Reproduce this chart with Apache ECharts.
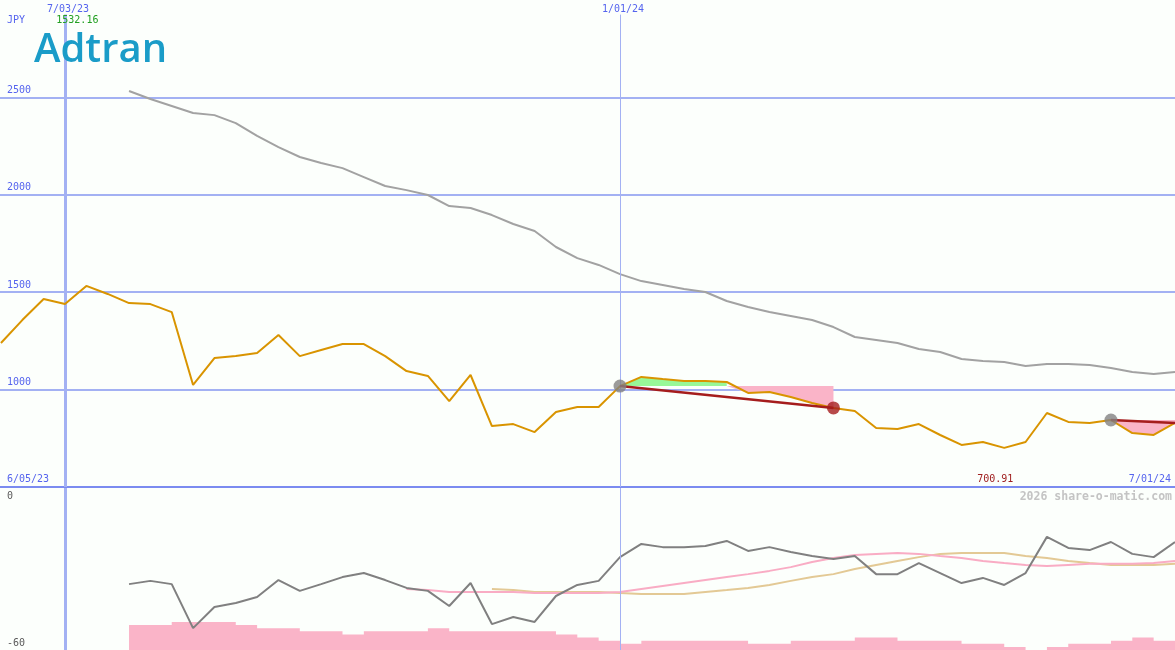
<!DOCTYPE html>
<html><head><meta charset="utf-8">
<script src="https://cdn.jsdelivr.net/npm/echarts@6/dist/echarts.min.js"></script>
<style>html,body{margin:0;padding:0;background:#fcfffc;overflow:hidden}#c{width:1175px;height:650px}</style>
</head><body><div id="c"></div>
<script>
// ---------- data ----------
const dates = ['2023-06-12','2023-06-19','2023-06-26','2023-07-03','2023-07-10','2023-07-17','2023-07-24','2023-07-31',
'2023-08-07','2023-08-14','2023-08-21','2023-08-28','2023-09-04','2023-09-11','2023-09-18','2023-09-25',
'2023-10-02','2023-10-09','2023-10-16','2023-10-23','2023-10-30','2023-11-06','2023-11-13','2023-11-20','2023-11-27',
'2023-12-04','2023-12-11','2023-12-18','2023-12-25','2024-01-01','2024-01-08','2024-01-15','2024-01-22','2024-01-29',
'2024-02-05','2024-02-12','2024-02-19','2024-02-26','2024-03-04','2024-03-11','2024-03-18','2024-03-25',
'2024-04-01','2024-04-08','2024-04-15','2024-04-22','2024-04-29','2024-05-06','2024-05-13','2024-05-20','2024-05-27',
'2024-06-03','2024-06-10','2024-06-17','2024-06-24','2024-07-01'];
const price = [1239,1357,1465,1439,1532.16,1491,1444,1439,1398,1024,1162,1172,1188,1280,1172,1203,1234,1234,1172,1095,
1070,941,1075,813,823,782,885,911,911,1018,1065,1054,1044,1044,1039,983,988,962,931,906,890,803,798,823,767,716,731,
700.91,731,880,834,829,844,777,767,829];
const movingAvg = [null,null,null,null,null,null,2533,2492,2456,2420,2409,2368,2302,2245,2194,2163,2137,2091,2045,2024,
1999,1942,1932,1896,1850,1814,1732,1675,1640,1593,1557,1537,1516,1501,1455,1424,1398,1378,1357,1321,1270,1255,1239,
1208,1193,1157,1147,1142,1121,1131,1131,1126,1111,1090,1080,1090];
const oscMain = [null,null,null,null,null,null,-35.6,-34.4,-35.6,-51.9,-44.1,-42.6,-40.4,-34.1,-38.1,-35.6,-33.0,-31.5,
-34.1,-37.0,-38.1,-43.7,-35.2,-50.4,-47.8,-49.6,-40.0,-35.9,-34.4,-25.6,-20.7,-21.9,-21.9,-21.5,-19.6,-23.3,-21.9,-23.7,
-25.2,-26.3,-25.2,-31.9,-31.9,-27.8,-31.5,-35.2,-33.3,-35.9,-31.5,-18.1,-22.2,-23.0,-20.0,-24.4,-25.6,-20.0];
const oscFast = [null,null,null,null,null,null,null,null,null,null,null,null,null,null,null,null,null,null,null,
-37.4,-37.8,-38.5,-38.5,-38.5,-38.5,-38.9,-38.9,-38.9,-38.9,-38.5,-37.4,-36.3,-35.2,-34.1,-33.0,-31.9,-30.7,-29.3,
-27.4,-25.9,-24.8,-24.4,-24.1,-24.4,-25.2,-25.9,-27.0,-27.8,-28.5,-28.9,-28.5,-28.1,-28.1,-28.1,-27.8,-27.0];
const oscSlow = [null,null,null,null,null,null,null,null,null,null,null,null,null,null,null,null,null,null,null,null,null,null,null,
-37.4,-37.8,-38.5,-38.5,-38.5,-38.5,-38.9,-39.3,-39.3,-39.3,-38.5,-37.8,-37.0,-35.9,-34.4,-33.0,-31.9,-30.0,-28.5,
-27.0,-25.6,-24.4,-24.1,-24.1,-24.1,-25.2,-25.9,-27.0,-27.8,-28.5,-28.5,-28.5,-28.1];
const volume = [null,null,null,null,null,null,8,8,9,9,9,8,7,7,6,6,5,6,6,6,7,6,6,6,6,6,5,4,3,2,3,3,3,3,3,2,2,3,3,3,
4,4,3,3,3,2,2,1,0,1,2,2,3,4,3,3];
const trades = [{entry:'2024-01-01', exit:'2024-03-11'}, {entry:'2024-06-10', exit:null}];
const priceTicks = [500, 3000, 500];      // min, max, step
const oscTicks = [-60, 0, 60];
const volumeMax = 52;
const currency = 'JPY';
const markDates = ['2023-07-03','2024-01-01'];
const markLabels = ['7/03/23','1/01/24'];
const startLabel = '6/05/23';
const endLabel = '7/01/24';
const logoText = 'Adtran';
const watermark = '2026 share-o-matic.com';

// ---------- helpers ----------
const DAY = 86400000;
function ts(s){const p=s.split('-').map(Number);return new Date(p[0],p[1]-1,p[2]).getTime();}
const T = dates.map(ts);
const pairs = arr => arr.map((v,i)=>[T[i], v]);
const xMin = T[0] - 0.315*DAY, xMax = T[T.length-1];

const MONO = 'DejaVu Sans Mono';
const BLUE = '#5564ee';
const GRIDC = '#a3b1f3';
const series = [];

// vertical date lines (carrier series)
function vLines(gridIdx, withLabel){
  return {
    type:'line', xAxisIndex:gridIdx, yAxisIndex:gridIdx, data:pairs(gridIdx===0?price:oscMain),
    lineStyle:{opacity:0}, symbol:'none', silent:true, z:1,
    markLine:{
      symbol:['none','none'], silent:true, animation:false,
      data: markDates.map((d,k)=>{
        const w = k===0 ? 3 : 1;
        const top = gridIdx===0 ? {coord:[ts(d), 2925]} : {coord:[ts(d), 0]};
        const bot = gridIdx===0 ? {coord:[ts(d), priceTicks[0]]} : {coord:[ts(d), oscTicks[0]]};
        top.lineStyle = {color:GRIDC, width:w, type:'solid'};
        top.label = withLabel ? {show:true, position:'start', formatter:markLabels[k], color:BLUE,
          fontFamily:MONO, fontSize:10, distance:0, offset:[3,0]} : {show:false};
        return [top, bot];
      })
    }
  };
}
series.push(vLines(0,true));
series.push(vLines(1,false));

// moving average
series.push({type:'line', xAxisIndex:0, yAxisIndex:0, data:pairs(movingAvg), symbol:'none',
  lineStyle:{color:'#a2a2a2', width:2}, z:3, silent:true});

// trade fills
trades.forEach((tr,k)=>{
  const s = dates.indexOf(tr.entry);
  const e = tr.exit ? dates.indexOf(tr.exit) : dates.length-1;
  const level = price[s];
  const gBase=[], gDiff=[], pBase=[], pDiff=[];
  for(let i=0;i<dates.length;i++){
    let g=null,gd=null,pb=null,pd=null;
    if(i>=s && i<=e){
      if(price[i]>=level){ g=level; gd=price[i]-level; }
      const below = price[i]<level || (i<e && price[i+1]<level);
      if(below){ pb=Math.min(price[i],level); pd=level-pb; }
    }
    gBase.push(g); gDiff.push(gd); pBase.push(pb); pDiff.push(pd);
  }
  const common = {type:'line', xAxisIndex:0, yAxisIndex:0, symbol:'none', silent:true, z:4, stackStrategy:'all',
    lineStyle:{opacity:0, width:0}};
  series.push(Object.assign({}, common, {stack:'g'+k, data:pairs(gBase)}));
  series.push(Object.assign({}, common, {stack:'g'+k, data:pairs(gDiff), areaStyle:{color:'#98f898', opacity:1}}));
  series.push(Object.assign({}, common, {stack:'p'+k, data:pairs(pBase)}));
  series.push(Object.assign({}, common, {stack:'p'+k, data:pairs(pDiff), areaStyle:{color:'#fab4c8', opacity:1}}));
});

// price
series.push({type:'line', xAxisIndex:0, yAxisIndex:0, data:pairs(price), symbol:'none',
  lineStyle:{color:'#d99400', width:2}, z:5, silent:true});

// trade lines and markers
const entryPts=[], exitPts=[];
trades.forEach(tr=>{
  const s = dates.indexOf(tr.entry);
  const e = tr.exit ? dates.indexOf(tr.exit) : dates.length-1;
  series.push({type:'line', xAxisIndex:0, yAxisIndex:0, data:[[T[s],price[s]],[T[e],price[e]]], symbol:'none',
    lineStyle:{color:'#a51d1d', width:2.5}, z:6, silent:true});
  entryPts.push([T[s],price[s]]);
  if(tr.exit) exitPts.push([T[e],price[e]]);
});
series.push({type:'scatter', xAxisIndex:0, yAxisIndex:0, data:exitPts, symbolSize:13,
  itemStyle:{color:'#a51d1d'}, z:7, silent:true});
series.push({type:'scatter', xAxisIndex:0, yAxisIndex:0, data:entryPts, symbolSize:13,
  itemStyle:{color:'#828282'}, z:7, silent:true});

// lower panel
series.push({type:'line', xAxisIndex:1, yAxisIndex:2, data:pairs(volume), step:'end', symbol:'none',
  lineStyle:{width:0, opacity:0}, areaStyle:{color:'#fab4c8', opacity:1}, z:2, silent:true});
series.push({type:'line', xAxisIndex:1, yAxisIndex:1, data:pairs(oscSlow), symbol:'none',
  lineStyle:{color:'#e3c995', width:2}, z:3, silent:true});
series.push({type:'line', xAxisIndex:1, yAxisIndex:1, data:pairs(oscFast), symbol:'none',
  lineStyle:{color:'#f9acc4', width:2}, z:3, silent:true});
series.push({type:'line', xAxisIndex:1, yAxisIndex:1, data:pairs(oscMain), symbol:'none',
  lineStyle:{color:'#808080', width:2}, z:4, silent:true});

const chart = echarts.init(document.getElementById('c'), null, {renderer:'canvas'});
chart.setOption({
  animation:false,
  backgroundColor:'#fcfffc',
  grid:[{left:0,right:0,top:0,height:487},{left:0,right:0,top:488,height:162}],
  xAxis:[
    {type:'time', gridIndex:0, min:xMin, max:xMax, axisLine:{show:true, onZero:false, lineStyle:{color:'#7b8bf0', width:2}},
     axisTick:{show:false}, axisLabel:{show:false}, splitLine:{show:false}},
    {type:'time', gridIndex:1, min:xMin, max:xMax, show:false}
  ],
  yAxis:[
    {type:'value', gridIndex:0, min:priceTicks[0], max:priceTicks[1], interval:priceTicks[2],
     axisLine:{show:false}, axisTick:{show:false},
     axisLabel:{inside:true, margin:7, color:BLUE, fontFamily:MONO, fontSize:10, verticalAlign:'bottom',
       padding:[0,0,2,0], showMinLabel:false, showMaxLabel:false, formatter:v=>String(v)},
     splitLine:{show:true, showMaxLine:false, lineStyle:{color:GRIDC, width:2}}},
    {type:'value', gridIndex:1, min:oscTicks[0], max:oscTicks[1], interval:oscTicks[2],
     axisLine:{show:false}, axisTick:{show:false}, splitLine:{show:false},
     axisLabel:{inside:true, margin:7, color:'#5a5a5a', fontFamily:MONO, fontSize:10,
       formatter:v=> v===oscTicks[1] ? '{t|'+v+'}' : '{b|'+v+'}',
       rich:{t:{padding:[16,0,0,0], fontFamily:MONO, fontSize:10, color:'#5a5a5a'},
             b:{padding:[0,0,14,0], fontFamily:MONO, fontSize:10, color:'#5a5a5a'}}}},
    {type:'value', gridIndex:1, min:0, max:volumeMax, show:false}
  ],
  series:series
});

// annotations
let hi=0, lo=0;
price.forEach((v,i)=>{ if(v>price[hi]) hi=i; if(v<price[lo]) lo=i; });
const xHi = chart.convertToPixel({xAxisIndex:0}, T[hi]);
const xLo = chart.convertToPixel({xAxisIndex:0}, T[lo]);
const txt = (x,y,text,color,align)=>({type:'text', x:x, y:y, silent:true, z:100,
  style:{text:text, fill:color, font:'10px "'+MONO+'"', textAlign:align, textVerticalAlign:'middle'}});
chart.setOption({graphic:[
  txt(7,20,currency,BLUE,'left'),
  txt(xHi-9,20,price[hi].toFixed(2),'#22a022','center'),
  txt(xLo-9,479,price[lo].toFixed(2),'#a02020','center'),
  txt(7,479,startLabel,BLUE,'left'),
  txt(1171,479,endLabel,BLUE,'right'),
  {type:'text', x:1172, y:497, silent:true, z:100,
   style:{text:watermark, fill:'#c4c4c4', font:'bold 11.5px "'+MONO+'"', textAlign:'right', textVerticalAlign:'middle'}},
  {type:'text', x:34, y:51, silent:true, z:100,
   style:{text:logoText, fill:'#1a9cc8', font:'600 40px "Open Sans"', textAlign:'left', textVerticalAlign:'middle'}}
]});
</script></body></html>
